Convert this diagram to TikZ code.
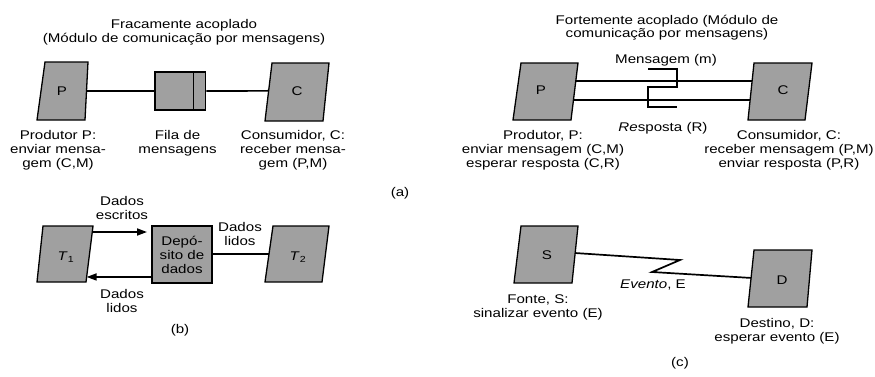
\documentclass[tikz,border=0pt]{standalone}
\usepackage{fontspec}
\setmainfont[FakeStretch=1.2]{Liberation Sans}
\usetikzlibrary{calc,arrows.meta}
\definecolor{shade}{RGB}{160,160,160}
\newcommand\paral[7]{% name, xtl, xtr, xbl, xbr, ytop, ybot
  \coordinate (#1-tl) at (#2,#6);
  \coordinate (#1-tr) at (#3,#6);
  \coordinate (#1-bl) at (#4,#7);
  \coordinate (#1-br) at (#5,#7);
  \draw[shapeline] (#1-tl) -- (#1-tr) -- (#1-br) -- (#1-bl) -- cycle;}
\begin{document}
\begin{tikzpicture}[x=1pt,y=-1pt,
  font=\fontsize{12.6}{14}\selectfont,
  shapeline/.style={draw=black, fill=shade, line width=1.3pt},
  conn/.style={line width=1.7pt},
  lbl/.style={align=center, inner sep=0pt},
  arr/.style={conn, -{Triangle[length=10pt,width=7pt]}}]
\useasboundingbox (0,0) rectangle (875,376);

% ---------------- (a) left: weakly coupled
\node[lbl] (tA) at (184,32.5) {Fracamente acoplado\\(Módulo de comunicação por mensagens)};
\paral{P1}{45}{88}{37}{85}{62}{120}
\node[lbl] (P1t) at (62,91) {P};
\paral{C1}{272}{329}{265}{323}{63}{121}
\node[lbl] (C1t) at (297,91.5) {C};
\node[shapeline, minimum width=50.7pt, minimum height=38pt, inner sep=0pt] (Q) at (180.35,91) {};
\draw[line width=1.3pt] ($(Q.north east)+(-13,0)$) -- ($(Q.south east)+(-13,0)$);
\coordinate (P1r) at ($(P1-tr)!0.5!(P1-br)$);
\coordinate (C1l) at ($(C1-tl)!0.48!(C1-bl)$);
\draw[conn] (P1r) -- (Q.west);
\draw[conn] (Q.east) -- (C1l);
\node[lbl] (P1d) at (58,150) {Produtor P:\\enviar mensa-\\gem (C,M)};
\node[lbl] (Qd) at (177.5,143.5) {Fila de\\mensagens};
\node[lbl] (C1d) at (293,150) {Consumidor, C:\\receber mensa-\\gem (P,M)};
\node[lbl] (la) at (400,193) {(a)};

% ---------------- (a) right: strongly coupled
\node[lbl, font=\fontsize{12.6}{13}\selectfont] (tB) at (667,27.5) {Fortemente acoplado (Módulo de\\comunicação por mensagens)};
\paral{P2}{521}{578}{513}{571}{63}{120}
\node[lbl] (P2t) at (541,90) {P};
\paral{C2}{754}{812}{748}{805}{63}{120}
\node[lbl] (C2t) at (783,90.5) {C};
\coordinate (P2a) at ($(P2-tr)!0.316!(P2-br)$);
\coordinate (P2b) at ($(P2-tr)!0.649!(P2-br)$);
\coordinate (C2a) at ($(C2-tl)!0.316!(C2-bl)$);
\coordinate (C2b) at ($(C2-tl)!0.649!(C2-bl)$);
\draw[conn] (P2a) -- (C2a);
\draw[conn] (P2b) -- (C2b);
\coordinate (k1) at (648,69);
\coordinate (k2) at (677,69);
\coordinate (k3) at (677,87);
\coordinate (k4) at (648,87);
\coordinate (k5) at (648,107);
\coordinate (k6) at (677,107);
\draw[line width=1.3pt] (k1) -- (k2) -- (k3) -- (k4) -- (k5) -- (k6);
\node[lbl] (msg) at (666,60) {Mensagem (m)};
\node[lbl] (resp) at (663,128) {\textit{Re}sposta (R)};
\node[lbl] (P2d) at (543,150) {Produtor, P:\\enviar mensagem (C,M)\\esperar resposta (C,R)};
\node[lbl] (C2d) at (789,150) {Consumidor, C:\\receber mensagem (P,M)\\enviar resposta (P,R)};

% ---------------- (b)
\paral{T1}{43}{93}{37}{86}{226}{282}
\node[lbl] (T1t) at (66,257) {\textit{T}\textsubscript{1}};
\paral{T2}{273}{329}{265}{322}{226}{282}
\node[lbl] (T2t) at (298,257) {\textit{T}\textsubscript{2}};
\node[shapeline, minimum width=60pt, minimum height=57pt, inner sep=0pt, align=center] (B) at (182,254.5) {Depó-\\sito de\\dados};
\coordinate (T1a) at ($(T1-tr)!0.107!(T1-br)$);
\coordinate (T1b) at ($(T1-tr)!0.91!(T1-br)$);
\coordinate (Bin) at (147,232);
\coordinate (Bout) at (B.west |- T1b);
\coordinate (T2l) at ($(T2-tl)!0.5!(T2-bl)$);
\draw[arr] (T1a) -- (Bin);
\draw[arr] (Bout) -- (T1b);
\draw[conn] (B.east |- T2l) -- (T2l);
\node[lbl] (dw) at (122,208) {Dados\\escritos};
\node[lbl] (dr1) at (122,300.5) {Dados\\lidos};
\node[lbl] (dr2) at (240,234) {Dados\\lidos};
\node[lbl] (lb) at (180,330) {(b)};

% ---------------- (c)
\paral{S}{521}{578}{514}{572}{226}{283}
\node[lbl] (St) at (547,255) {S};
\paral{D}{754}{812}{748}{807}{250}{307}
\node[lbl] (Dt) at (782,280) {D};
\coordinate (Sr) at ($(S-tr)!0.474!(S-br)$);
\coordinate (Dl) at ($(D-tl)!0.49!(D-bl)$);
\coordinate (z1) at (680,260);
\coordinate (z2) at (652,272);
\draw[conn, line join=miter] (Sr) -- (z1) -- (z2) -- (Dl);
\node[lbl] (ev) at (653,285) {\textit{Evento}, E};
\node[lbl] (Sd) at (538,307) {Fonte, S:\\sinalizar evento (E)};
\node[lbl] (Dd) at (777,331) {Destino, D:\\esperar evento (E)};
\node[lbl] (lc) at (680,363) {(c)};
\end{tikzpicture}
\end{document}
